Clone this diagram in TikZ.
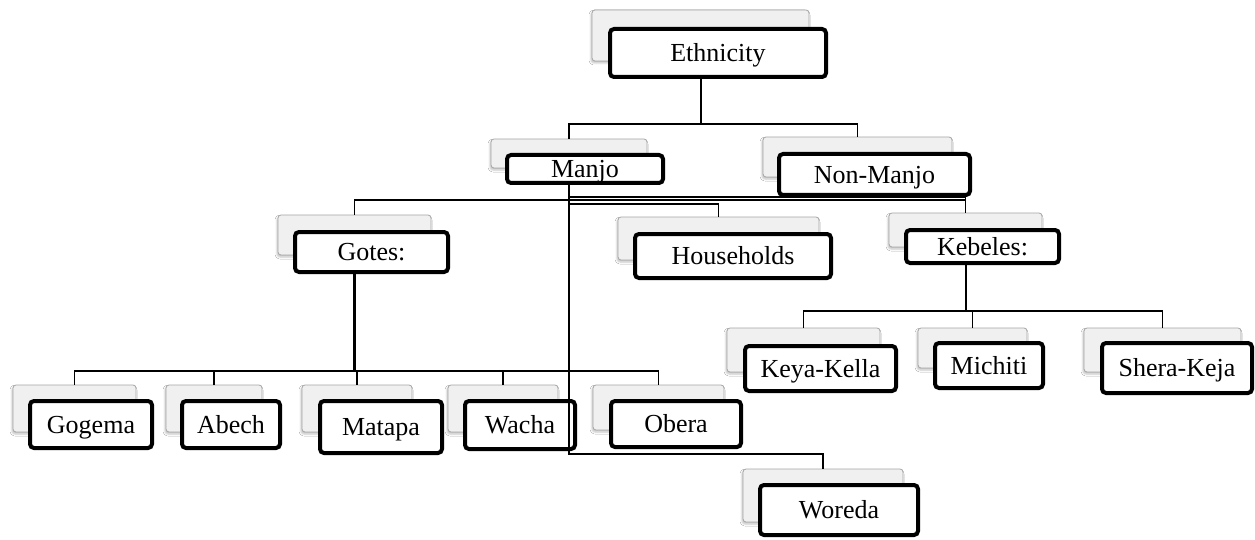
\documentclass[tikz,border=0pt]{standalone}
\usepackage{fontspec}
\setmainfont{Liberation Serif}
\usetikzlibrary{shadows.blur}
\tikzset{
  graybox/.style={draw=black!35, fill=black!6, line width=0.8pt, rounded corners=3pt, inner sep=0pt,
    blur shadow={shadow xshift=-1pt, shadow yshift=-2pt, shadow opacity=25, shadow blur steps=4, shadow blur radius=2pt}},
  whitebox/.style={draw=black, fill=white, line width=4pt, rounded corners=4pt, inner sep=0pt,
    font=\fontsize{26}{30}\selectfont, text height=17.2pt, text depth=0pt},
  conn/.style={draw=black, line width=1.3pt},
  trunk/.style={draw=black, line width=2.6pt},
}
\newcommand{\gb}[5]{\node[graybox, minimum width={#4-#2}, minimum height={#5-#3}] (#1) at ({(#2+#4)/2},{(#3+#5)/2}) {};}
\newcommand{\wb}[6]{\node[whitebox, minimum width={#4-#2-4}, minimum height={#5-#3-4}] (#1) at ({(#2+#4)/2},{(#3+#5)/2}) {#6};}
\begin{document}
\begin{tikzpicture}[x=1pt,y=-1pt]
\fill[white] (0,0) rectangle (1255,540);
\useasboundingbox (0,0) rectangle (1255,540);
% boxes
\gb{ge}{592}{10}{809}{61}      \wb{eth}{608}{27}{828}{79}{Ethnicity}
\gb{gmanjo}{491}{139}{647}{168} \wb{manjo}{505}{153}{665}{185}{Manjo}
\gb{gnon}{763}{137}{952}{177}  \wb{nonmanjo}{777}{152}{972}{197}{Non-Manjo}
\gb{ggotes}{278}{215}{431}{255} \wb{gotes}{293}{230}{450}{274}{Gotes:}
\gb{ghouse}{618}{217}{819}{260} \wb{house}{633}{232}{833}{280}{Households}
\gb{gkeb}{889}{213}{1042}{247} \wb{keb}{904}{228}{1061}{265}{Kebeles:}
\gb{gkeya}{727}{328}{880}{372} \wb{keya}{743}{344}{898}{393}{Keya-Kella}
\gb{gmich}{918}{328}{1027}{368} \wb{mich}{933}{341}{1045}{390}{Michiti}
\gb{gshera}{1084}{328}{1241}{372} \wb{shera}{1100}{341}{1254}{395}{Shera-Keja}
\gb{ggog}{13}{385}{136}{432}   \wb{gog}{28}{399}{154}{450}{Gogema}
\gb{gabe}{166}{385}{262}{432}  \wb{abe}{180}{399}{282}{450}{Abech}
\gb{gmat}{302}{385}{412}{432}  \wb{mat}{318}{399}{444}{455}{Matapa}
\gb{gwac}{448}{385}{558}{432}  \wb{wac}{463}{399}{577}{451}{Wacha}
\gb{gobe}{593}{385}{724}{430}  \wb{obe}{609}{399}{743}{449}{Obera}
\gb{gwor}{743}{469}{903}{522}  \wb{wor}{758}{483}{920}{537}{Woreda}
% bus coordinates
\coordinate (ebus) at (701,124);
\coordinate (kbus) at (568,197);
\coordinate (gtbus) at (568,200);
\coordinate (hbus) at (568,204);
\coordinate (gbus) at (354.5,371);
\coordinate (kebbus) at (966,311);
\coordinate (wbus) at (568,454);
% Ethnicity
\draw[line width=2pt] (ebus |- eth.south) -- (ebus);
\draw[conn] (gmanjo.north) |- (ebus) -| (gnon.north);
% Manjo
\draw[conn] (gmanjo.north |- manjo.south) -- (gmanjo.north |- wbus) -| (gwor.north);
\draw[conn] (kbus) -| (gkeb.north);
\draw[conn] (ggotes.north) |- (gkeb.north |- gtbus);
\draw[conn] (hbus) -| (ghouse.north);
% Gotes
\draw[trunk] (gbus |- gotes.south) -- (gbus);
\draw[conn] (ggog.north) |- (gbus) -| (gobe.north);
\draw[conn] (gabe.north) -- (gabe.north |- gbus);
\draw[conn] (gmat.north) -- (gmat.north |- gbus);
\draw[conn] (gwac.north) -- (gwac.north |- gbus);
% Kebeles
\draw[trunk] (kebbus |- keb.south) -- (kebbus);
\draw[conn] (gkeya.north) |- (kebbus) -| (gshera.north);
\draw[conn] (gmich.north) -- (gmich.north |- kebbus);
\end{tikzpicture}
\end{document}
